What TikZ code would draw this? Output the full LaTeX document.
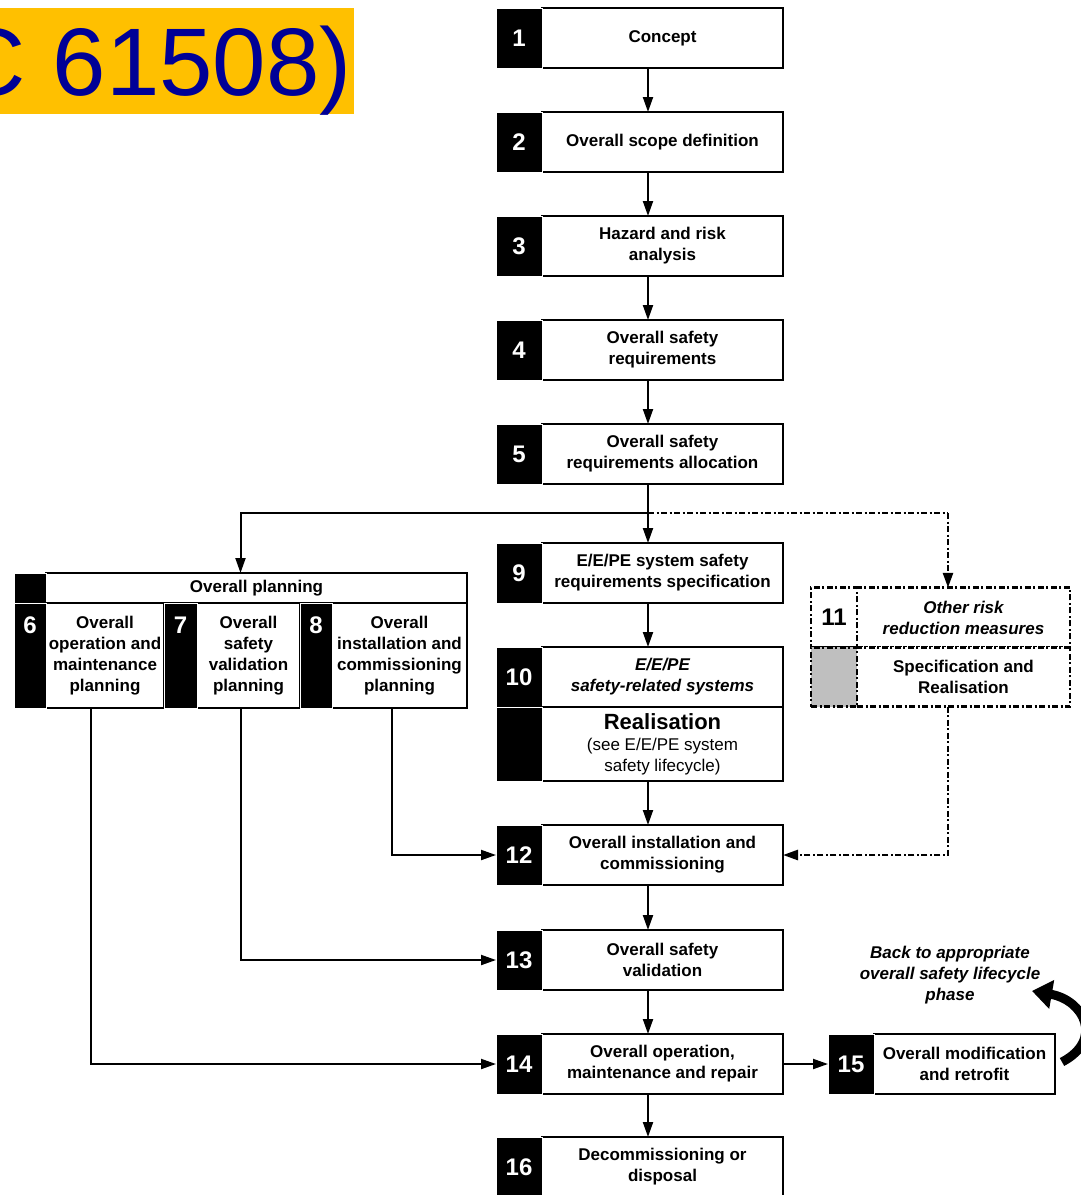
\documentclass[tikz,border=0pt]{standalone}
\usepackage{fontspec}
\setmainfont{Liberation Sans}
\usetikzlibrary{positioning,calc,arrows.meta}
\definecolor{banner}{RGB}{255,192,0}
\definecolor{bannertext}{RGB}{0,0,150}
\tikzset{
  stepbox/.style={draw, fill=white, line width=2pt, minimum width=241pt, minimum height=60pt,
    inner sep=1pt, outer sep=0pt, align=center, font=\bfseries\fontsize{17}{21}\selectfont},
  numbox/.style={draw=white, fill=black, line width=1pt, minimum width=46pt, minimum height=60pt,
    inner sep=0pt, outer sep=0pt, text=white, font=\bfseries\fontsize{24}{26}\selectfont},
  numtext/.style={inner sep=0pt, text=white, font=\bfseries\fontsize{24}{26}\selectfont},
  riskbox/.style={stepbox, dashdot, minimum width=213pt, minimum height=59.5pt},
  tip/.style={-{Triangle[length=15pt,width=10pt]}},
  flow/.style={line width=2pt, tip},
  dashdot/.style={line width=2.6pt, dash pattern=on 6pt off 2.5pt on 2pt off 2.5pt},
}
\begin{document}
\begin{tikzpicture}[x=1pt,y=-1pt]
    \useasboundingbox (0,0) rectangle (1081,1195);
    \clip (0,0) rectangle (1081,1195);

    \fill[banner] (0,8) rectangle (354,114);
    \node[anchor=base east, inner sep=0pt, text=bannertext, font=\fontsize{96}{100}\selectfont] (title) at (352,95) {C 61508)};

    \coordinate (spine) at (648,0);
    \coordinate (split) at (648,513);
    \coordinate (riskx) at (948,513);

    \node[stepbox] (s1) at (662.5,38) {Concept};
    \node[numbox, left=0pt of s1] (n1) {1};
    \node[stepbox] (s2) at (662.5,142) {Overall scope definition};
    \node[numbox, left=0pt of s2] (n2) {2};
    \node[stepbox] (s3) at (662.5,246) {Hazard and risk\\analysis};
    \node[numbox, left=0pt of s3] (n3) {3};
    \node[stepbox] (s4) at (662.5,350) {Overall safety\\requirements};
    \node[numbox, left=0pt of s4] (n4) {4};
    \node[stepbox] (s5) at (662.5,454) {Overall safety\\requirements allocation};
    \node[numbox, left=0pt of s5] (n5) {5};

    \node[stepbox] (s9) at (662.5,573) {E/E/PE system safety\\requirements specification};
    \node[numbox, left=0pt of s9] (n9) {9};
    \node[stepbox, font=\bfseries\itshape\fontsize{17}{21}\selectfont] (s10) at (662.5,677) {E/E/PE\\safety-related systems};
    \node[numbox, left=0pt of s10] (n10) {10};
    \node[stepbox, minimum height=74pt, font=\fontsize{17}{21}\selectfont] (real) at (662.5,744)
        {{\bfseries\fontsize{22}{24}\selectfont Realisation}\\(see E/E/PE system\\safety lifecycle)};
    \node[numbox, minimum height=74pt, left=0pt of real] (nreal) {};

    \node[stepbox] (s12) at (662.5,855) {Overall installation and\\commissioning};
    \node[numbox, left=0pt of s12] (n12) {12};
    \node[stepbox] (s13) at (662.5,960) {Overall safety\\validation};
    \node[numbox, left=0pt of s13] (n13) {13};
    \node[stepbox] (s14) at (662.5,1064) {Overall operation,\\maintenance and repair};
    \node[numbox, left=0pt of s14] (n14) {14};
    \node[stepbox] (s16) at (662.5,1167) {Decommissioning or\\disposal};
    \node[numbox, left=0pt of s16] (n16) {16};

    \node[stepbox, minimum width=181pt] (s15) at (964.5,1064) {Overall modification\\and retrofit};
    \node[numbox, left=0pt of s15] (n15) {15};

    \node[stepbox, minimum width=421pt, minimum height=30pt] (planhd) at (256.5,588) {Overall planning};
    \node[numbox, minimum width=32pt, minimum height=30pt, left=0pt of planhd] (planno) {};
    \node[stepbox, minimum width=118pt, minimum height=105pt] (s6) at (105,655.5) {Overall\\operation and\\maintenance\\planning};
    \node[numbox, minimum width=32pt, minimum height=105pt, left=0pt of s6] (n6) {};
    \node[stepbox, minimum width=103pt, minimum height=105pt] (s7) at (248.5,655.5) {Overall\\safety\\validation\\planning};
    \node[numbox, minimum width=33pt, minimum height=105pt, left=0pt of s7] (n7) {};
    \node[stepbox, minimum width=135pt, minimum height=105pt] (s8) at (399.5,655.5) {Overall\\installation and\\commissioning\\planning};
    \node[numbox, minimum width=32pt, minimum height=105pt, left=0pt of s8] (n8) {};
    \node[numtext, below=14pt of n6.north] (t6) {6};
    \node[numtext, below=14pt of n7.north] (t7) {7};
    \node[numtext, below=14pt of n8.north] (t8) {8};

    \node[riskbox, font=\bfseries\itshape\fontsize{17}{21}\selectfont] (s11) at (963.5,617.5) {Other risk\\reduction measures};
    \node[riskbox, minimum width=46pt, text=black, font=\bfseries\fontsize{24}{26}\selectfont, left=0pt of s11] (n11) {11};
    \node[riskbox] (s11b) at (963.5,677) {Specification and\\Realisation};
    \node[riskbox, minimum width=46pt, fill=black!25, left=0pt of s11b] (g11) {};

    \node[font=\bfseries\itshape\fontsize{17}{21}\selectfont, align=center] (back) at (950,975)
        {Back to appropriate\\overall safety lifecycle\\phase};
    \coordinate (backfrom) at (1062,1062);
    \coordinate (backto) at (1032,991);

    \draw[flow] (s1.south -| spine) -- (s2.north -| spine);
    \draw[flow] (s2.south -| spine) -- (s3.north -| spine);
    \draw[flow] (s3.south -| spine) -- (s4.north -| spine);
    \draw[flow] (s4.south -| spine) -- (s5.north -| spine);
    \draw[line width=2pt] (s5.south -| spine) -- (split);
    \draw[flow] (split) -- (s9.north -| spine);
    \draw[flow] (split) -| ($(planno.north west)!0.5!(planhd.north east)$);
    \draw[flow] (s9.south -| spine) -- (s10.north -| spine);
    \draw[flow] (real.south -| spine) -- (s12.north -| spine);
    \draw[flow] (s12.south -| spine) -- (s13.north -| spine);
    \draw[flow] (s13.south -| spine) -- (s14.north -| spine);
    \draw[flow] (s14.south -| spine) -- (s16.north -| spine);
    \draw[flow] (s14.east) -- (n15.west);

    \draw[flow] ($(s8.south)+(-8,0)$) |- (n12.west);
    \draw[flow] ($(s7.south)+(-8,0)$) |- (n13.west);
    \draw[flow] ($(s6.south)+(-14,0)$) |- (n14.west);

    \draw[dashdot] (split) -- (riskx);
    \draw[dashdot, tip] (riskx) -- (riskx |- s11.north);
    \draw[dashdot, tip] (s11b.south -| riskx) |- (s12.east);

    \draw[line width=9pt, -{Triangle[length=20pt,width=28pt]}] (backfrom)
        .. controls (1104,1040) and (1084,1000) .. (backto);
\end{tikzpicture}
\end{document}
